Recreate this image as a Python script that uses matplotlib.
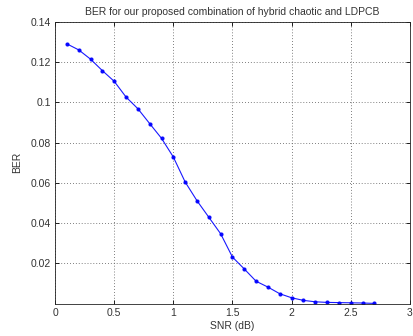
import matplotlib
matplotlib.use("Agg")
import matplotlib.pyplot as plt
import numpy as np

snr = [0.1, 0.2, 0.3, 0.4, 0.5, 0.6, 0.7, 0.8, 0.9, 1.0,
       1.1, 1.2, 1.3, 1.4, 1.5, 1.6, 1.7, 1.8, 1.9, 2.0,
       2.1, 2.2, 2.3, 2.4, 2.5, 2.6, 2.7]
ber = [0.1290, 0.1260, 0.1214, 0.1157, 0.1104, 0.1026, 0.0968, 0.0894, 0.0821, 0.0728,
       0.0604, 0.0511, 0.0429, 0.0347, 0.0231, 0.0172, 0.0111, 0.0082, 0.0049, 0.0029,
       0.0016, 0.0009, 0.0006, 0.0005, 0.0004, 0.0003, 0.0001]

xticks = [0, 0.5, 1, 1.5, 2, 2.5, 3]
xlabels = ["0", "0.5", "1", "1.5", "2", "2.5", "3"]
yticks = [0.02, 0.04, 0.06, 0.08, 0.1, 0.12, 0.14]
ylabels = ["0.02", "0.04", "0.06", "0.08", "0.1", "0.12", "0.14"]

plt.rcParams['font.family'] = ['Liberation Sans', 'DejaVu Sans']
txt = '#333333'

fig = plt.figure(figsize=(4.14, 3.36), dpi=100)
ax = fig.add_axes([0.133, 0.0964, 0.857, 0.839])

ax.plot(snr, ber, color='#0000ff', lw=0.8, marker='.', markersize=4, alpha=0.9)

ax.set_xlim(0, 3)
ax.set_ylim(0, 0.14)
ax.set_xticks(xticks)
ax.set_xticklabels(xlabels)
ax.set_yticks(yticks)
ax.set_yticklabels(ylabels)
ax.tick_params(direction='in', length=3, width=0.6, labelsize=7.5,
               labelcolor=txt, top=True, right=True, pad=3)
ax.grid(True, linestyle=(0, (1, 2.5)), color='#555555', lw=0.6)
for s in ax.spines.values():
    s.set_linewidth(0.6)
    s.set_color('#222222')

ax.set_xlabel('SNR (dB)', fontsize=7.5, color=txt, labelpad=2)
ax.set_ylabel('BER', fontsize=7.5, color=txt, labelpad=6)
ax.set_title('BER for our proposed combination of hybrid chaotic and LDPCB',
             fontsize=7.5, color=txt, pad=5)

fig.savefig('out.png', dpi=100)
